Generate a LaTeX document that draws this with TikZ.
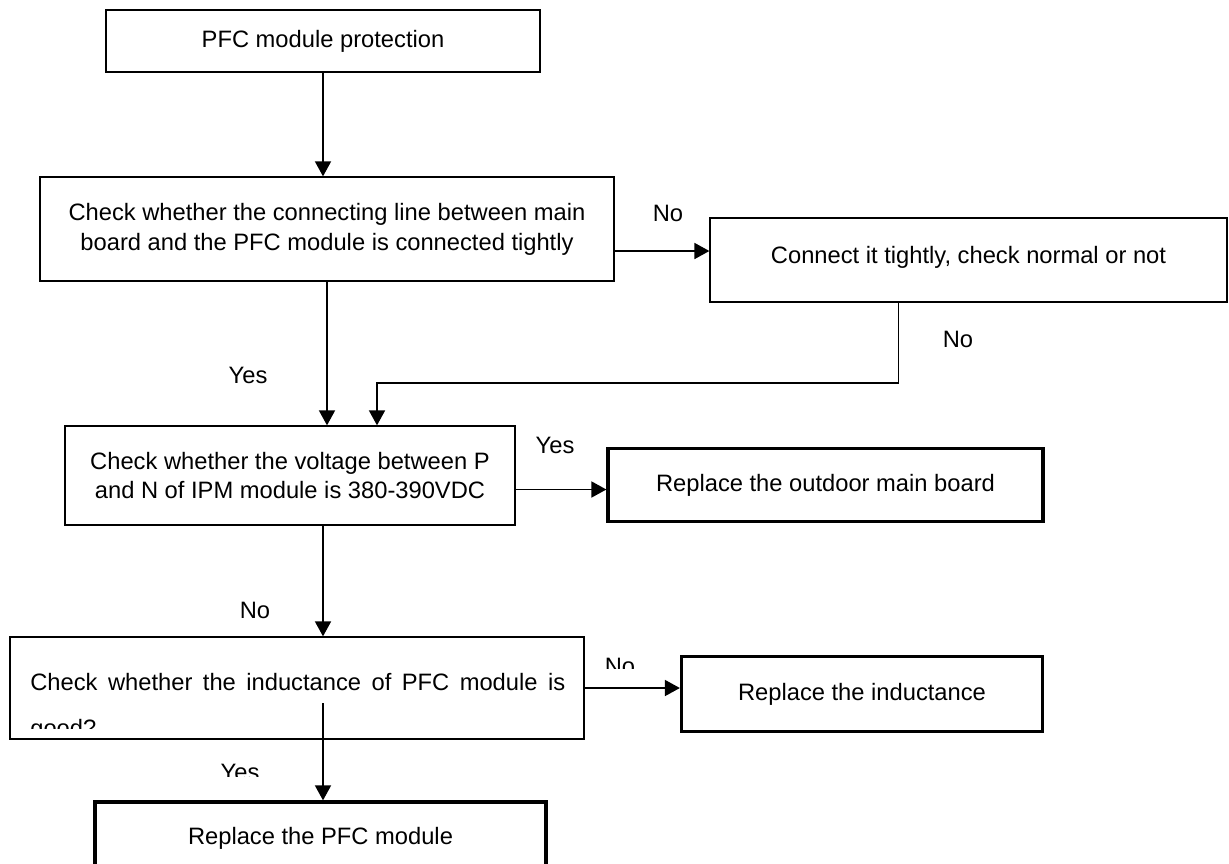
\documentclass[tikz,border=0pt]{standalone}
\usepackage{fontspec}
\setmainfont{Liberation Sans}
\usetikzlibrary{arrows.meta, calc}
\setlength{\parindent}{0pt}
\hyphenpenalty=10000

\tikzset{
  stepbox/.style={draw, line width=0.75pt, align=center, inner sep=2pt, font=\fontsize{13.5}{17}\selectfont},
  endbox/.style={stepbox, line width=1.9pt},
  flow/.style={line width=1pt, -{Triangle[length=3mm, width=3.2mm]}},
  answer/.style={font=\fontsize{13.5}{17}\selectfont, inner sep=0pt}
}

\begin{document}
\begin{tikzpicture}[x=0.02cm, y=-0.02cm]
  \useasboundingbox (0,0) rectangle (1229,863);
  \clip (0,0) rectangle (1229,863);

  % Check steps
  \node[stepbox, minimum width=8.68cm, minimum height=1.24cm] (protect) at (323,41) {PFC module protection};
  \node[stepbox, minimum width=11.48cm, minimum height=2.08cm] (wiring) at (327,229) {Check whether the connecting line between main\\board and the PFC module is connected tightly};
  \node[stepbox, minimum width=10.34cm, minimum height=1.68cm] (tighten) at (968.5,260) {\raisebox{5.5pt}{Connect it tightly, check normal or not}};
  \node[stepbox, minimum width=9cm, minimum height=1.98cm] (voltage) at (290,475.5) {Check whether the voltage between P\\and N of IPM module is 380-390VDC};
  \node[stepbox, minimum width=11.48cm, minimum height=2.04cm] (induct) at (297,688) {};

  % Inductance text runs past the box bottom
  \begin{scope}
    \clip (12,639) rectangle (582,728);
    \node[answer, anchor=north west, text width=10.7cm, align=justify, font=\fontsize{13.5}{26}\selectfont] (inducttext) at (30,673) {Check whether the inductance of PFC module is good?};
  \end{scope}

  % Replacement steps
  \node[endbox, minimum width=8.7cm, minimum height=1.46cm] (mainboard) at (825.5,485) {Replace the outdoor main board};
  \node[endbox, minimum width=7.22cm, minimum height=1.5cm] (newcoil) at (862,694) {Replace the inductance};
  \node[endbox, minimum width=9.02cm, minimum height=1.44cm] (newpfc) at (320.5,838) {Replace the PFC module};

  % Connectors
  \draw[flow] (protect.south) -- (protect.south |- wiring.north);
  \draw[flow] ($(wiring.east)+(0,22)$) coordinate (w1) -- (w1 -| tighten.west);
  \draw[flow] (wiring.south) -- (wiring.south |- voltage.north);
  \draw[flow] ($(tighten.south)+(-70,0)$) |- ($(voltage.north)+(87,-42)$) -- ($(voltage.north)+(87,0)$);
  \draw[flow] ($(voltage.east)+(0,14)$) coordinate (v1) -- (v1 -| mainboard.west);
  \draw[flow] ($(voltage.south)+(33,0)$) coordinate (v2) -- (v2 |- induct.north);
  \draw[flow] (induct.east) -- (induct.east -| newcoil.west);
  \draw[flow] ($(induct.center)+(26,15)$) coordinate (i1) -- (i1 |- newpfc.north);

  % Answers
  \node[answer] (no1) at (668,213) {No};
  \node[answer] (yes1) at (248,375) {Yes};
  \node[answer] (no2) at (958,339) {No};
  \node[answer] (yes2) at (555,445) {Yes};
  \node[answer] (no3) at (255,610) {No};
  \begin{scope}
    \clip (590,640) rectangle (660,668);
    \node[answer, anchor=north] (no4) at (620,658) {No};
  \end{scope}
  \begin{scope}
    \clip (200,750) rectangle (280,776);
    \node[answer, anchor=north] (yes3) at (240,764) {Yes};
  \end{scope}
\end{tikzpicture}
\end{document}
